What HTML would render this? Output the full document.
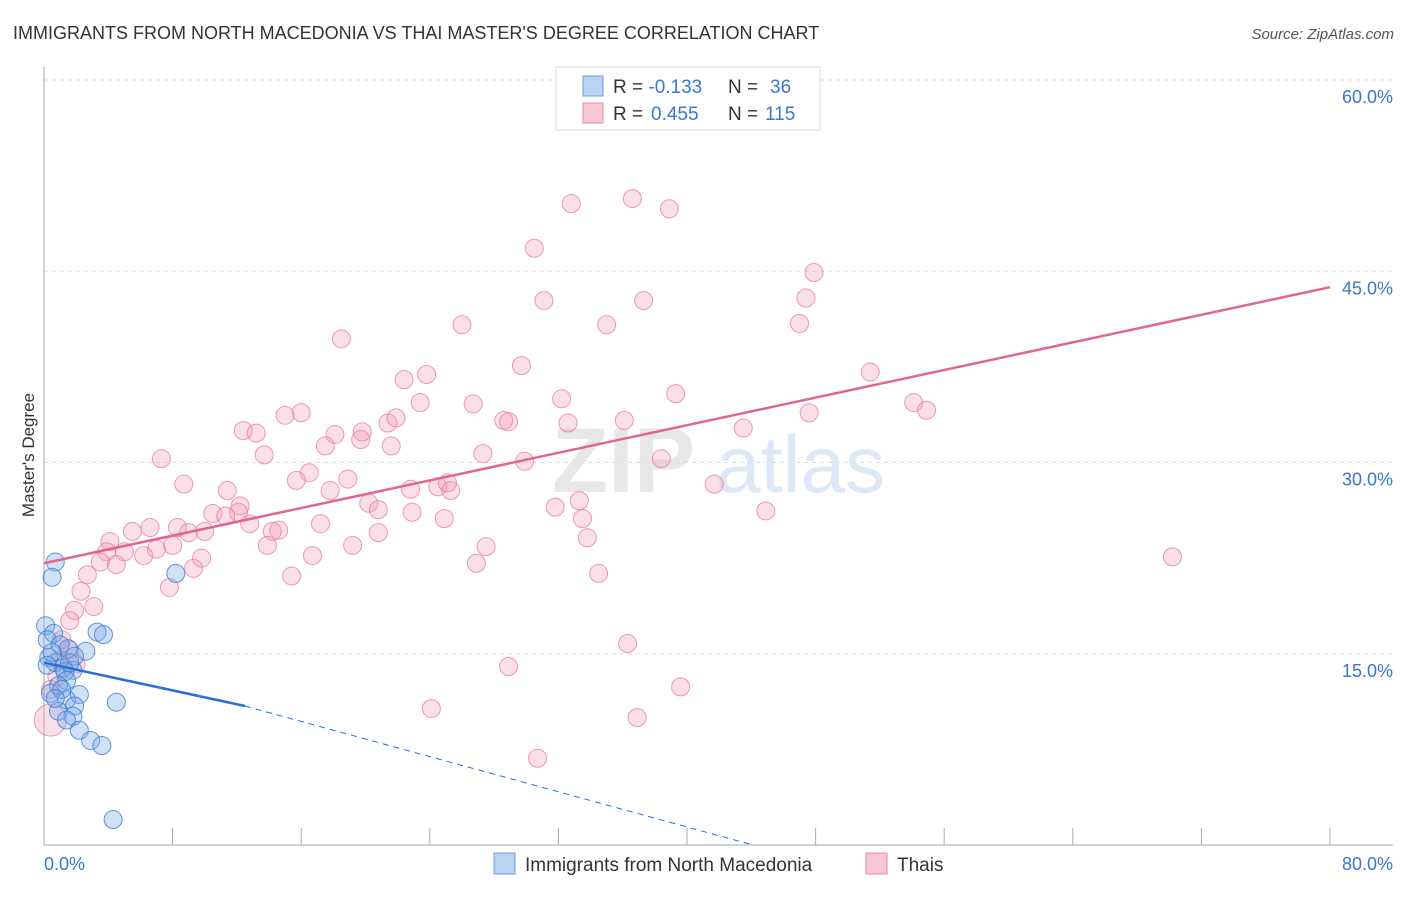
<!DOCTYPE html>
<html><head><meta charset="utf-8"><style>
body{margin:0;background:#fff;font-family:"Liberation Sans",sans-serif}
svg text{font-family:"Liberation Sans",sans-serif}
</style></head><body>
<svg id="c" width="1406" height="892" viewBox="0 0 1406 892">
<text x="13" y="39" font-size="18" fill="#333">IMMIGRANTS FROM NORTH MACEDONIA VS THAI MASTER'S DEGREE CORRELATION CHART</text>
<text x="1394" y="39" font-size="15" fill="#555" font-style="italic" text-anchor="end">Source: ZipAtlas.com</text>
<g opacity="0.35">
<text x="552" y="492" font-size="92" fill="#bbb" font-family="Liberation Serif" font-weight="bold">ZIP</text>
<text x="716" y="492" font-size="80" fill="#9cc0e8">atlas</text>
</g>
<g id="grid"></g><g id="axes"></g><g id="pts"></g><g id="lines"></g>
<text transform="translate(34,455) rotate(-90)" font-size="17" fill="#333" text-anchor="middle">Master's Degree</text>
<g>
<rect x="556" y="67" width="264" height="63" fill="#fff" stroke="#ddd"/>
<rect x="583" y="76" width="20" height="20" fill="#b9d3f3" stroke="#6a9ee0"/>
<rect x="583" y="103" width="20" height="20" fill="#f9c6d6" stroke="#e88aa8"/>
<text x="613" y="93" font-size="19" fill="#333">R = <tspan fill="#3a75d0">-0.133</tspan><tspan x="728">N = </tspan><tspan fill="#3a75d0" x="770">36</tspan></text>
<text x="613" y="120" font-size="19" fill="#333">R = <tspan fill="#3a75d0" x="651">0.455</tspan><tspan x="728">N = </tspan><tspan fill="#3a75d0" x="765">115</tspan></text>
</g>
<g>
<rect x="494" y="853" width="21" height="21" fill="#b9d3f3" stroke="#6a9ee0"/>
<text x="525" y="871" font-size="19" fill="#333">Immigrants from North Macedonia</text>
<rect x="866" y="853" width="21" height="21" fill="#f9c6d6" stroke="#e88aa8"/>
<text x="897" y="871" font-size="19" fill="#333">Thais</text>
</g>
</svg>
<script>
const yTicks=[15,30,45,60];
const xTickLabels=["0.0%","80.0%"];
const pinkX=[32.8,36.6,38.9,30.5,47.9,47.4,31.1,37.3,26.0,35.0,47.0,18.5,29.7,22.4,23.8,51.4,39.3,32.2,23.4,26.7,54.1,54.9,47.6,16.0,15.0,28.6,28.9,21.4,21.9,32.6,36.1,12.4,13.2,18.1,19.8,43.5,17.5,19.7,21.6,7.3,13.7,27.3,38.4,29.9,16.5,15.7,18.9,8.7,24.5,25.1,25.3,22.8,17.8,11.4,41.7,33.3,31.8,20.2,12.2,10.5,11.3,12.1,22.9,20.8,44.9,24.9,33.5,12.8,17.2,6.6,8.3,5.5,9.0,14.6,14.2,10.0,33.8,4.1,20.8,8.0,7.0,19.2,27.5,13.9,3.9,5.0,6.2,4.5,3.5,16.7,9.8,26.9,9.3,2.7,34.5,15.4,7.8,70.2,2.3,3.1,1.9,1.6,36.3,28.9,39.6,24.1,36.9,30.7,0.4,0.4,1.0,1.1,1.6,0.8,2.0];
const pinkY=[50.3,50.7,49.9,46.8,44.9,42.9,42.7,42.7,40.8,40.8,40.9,39.7,37.6,36.5,36.9,37.1,35.4,35.0,34.7,34.6,34.7,34.1,33.9,33.9,33.7,33.3,33.2,33.1,33.5,33.1,33.3,32.5,32.3,32.2,32.4,32.7,31.3,31.8,31.3,30.3,30.6,30.7,30.3,30.1,29.2,28.6,28.7,28.3,28.1,28.4,27.8,27.9,27.8,27.8,28.3,27.0,26.5,26.8,26.6,26.0,25.8,26.1,26.1,26.3,26.2,25.6,25.6,25.2,25.2,24.9,24.9,24.6,24.5,24.7,24.6,24.6,24.1,23.8,24.5,23.5,23.2,23.5,23.4,23.5,23.0,23.0,22.7,22.0,22.2,22.7,22.5,22.1,21.7,21.2,21.3,21.1,20.2,22.6,19.9,18.7,18.4,17.6,15.8,14.0,12.4,10.7,10.0,6.8,9.8,12.2,14.5,16.1,15.3,13.2,14.2];
const blueX=[0.7,0.5,8.2,0.1,0.6,3.3,3.7,0.2,1.0,1.5,2.6,1.9,0.3,0.7,1.2,1.8,1.3,1.4,0.9,2.2,0.4,1.4,1.9,4.5,0.9,1.8,1.4,2.2,2.9,3.6,4.3,0.5,0.2,1.6,1.1,0.7];
const blueY=[22.2,21.0,21.3,17.2,16.6,16.7,16.5,16.1,15.7,15.4,15.2,14.8,14.7,14.3,13.9,13.7,13.6,12.9,12.5,11.8,11.9,11.4,10.9,11.2,10.5,10.1,9.8,9.0,8.2,7.8,2.0,15.1,14.1,14.3,12.2,11.5];
const pinkTrend=[22.1,43.75];
const blueTrend=[14.3,10.9,0];
const blueTrendX=[0,12.5,44.1];
const NS="http://www.w3.org/2000/svg";
const X0=44,X1=1330,Y0=845,YT=80;
const sx=v=>X0+v/80*(X1-X0);
const sy=v=>Y0-v/60*(Y0-YT);
function mk(tag,attrs,parent){const e=document.createElementNS(NS,tag);for(const k in attrs)e.setAttribute(k,attrs[k]);document.getElementById(parent).appendChild(e);return e;}
yTicks.forEach(t=>{
 const l=mk('line',{x1:X0,x2:1393,y1:sy(t),y2:sy(t),stroke:'#ddd','stroke-dasharray':'4,4'},'grid');
 
 
 const tx=mk('text',{x:1393,y:sy(t)+23,'font-size':18,fill:'#3a75d0','text-anchor':'end'},'grid');
 tx.textContent=t.toFixed(1)+'%';
 
 
});
mk('line',{x1:X0,x2:X0,y1:67,y2:Y0,stroke:'#aaa'},'axes');
mk('line',{x1:X0,x2:1393,y1:Y0,y2:Y0,stroke:'#aaa'},'axes');
for(let i=1;i<=10;i++){const l=mk('line',{x1:sx(i*8),x2:sx(i*8),y1:Y0-17,y2:Y0,stroke:'#aaa'},'axes');
 
 }
const xl0=mk('text',{x:44,y:870,'font-size':18,fill:'#3a75d0'},'axes');xl0.textContent=xTickLabels[0];


const xl1=mk('text',{x:1393,y:870,'font-size':18,fill:'#3a75d0','text-anchor':'end'},'axes');xl1.textContent=xTickLabels[1];


pinkX.forEach((v,i)=>{const big=(i==pinkX.length-7);
 const c=mk('circle',{cx:sx(v),cy:sy(pinkY[i]),r:big?16:9,fill:'rgba(242,150,180,0.3)',stroke:'rgba(232,120,160,0.75)','stroke-width':1},'pts');
 
 });
blueX.forEach((v,i)=>{
 const c=mk('circle',{cx:sx(v),cy:sy(blueY[i]),r:9,fill:'rgba(120,170,230,0.35)',stroke:'rgba(60,125,210,0.8)','stroke-width':1},'pts');
 
 });
const pl=mk('line',{x1:sx(0),y1:sy(pinkTrend[0]),x2:sx(80),y2:sy(pinkTrend[1]),stroke:'#e06690','stroke-width':2.5},'lines');


const bl=mk('line',{x1:sx(blueTrendX[0]),y1:sy(blueTrend[0]),x2:sx(blueTrendX[1]),y2:sy(blueTrend[1]),stroke:'#2a6fd6','stroke-width':2.5},'lines');


const bd=mk('line',{x1:sx(blueTrendX[1]),y1:sy(blueTrend[1]),x2:sx(blueTrendX[2]),y2:sy(blueTrend[2]),stroke:'#2a6fd6','stroke-width':1,'stroke-dasharray':'6,5'},'lines');


</script>
</body></html>
